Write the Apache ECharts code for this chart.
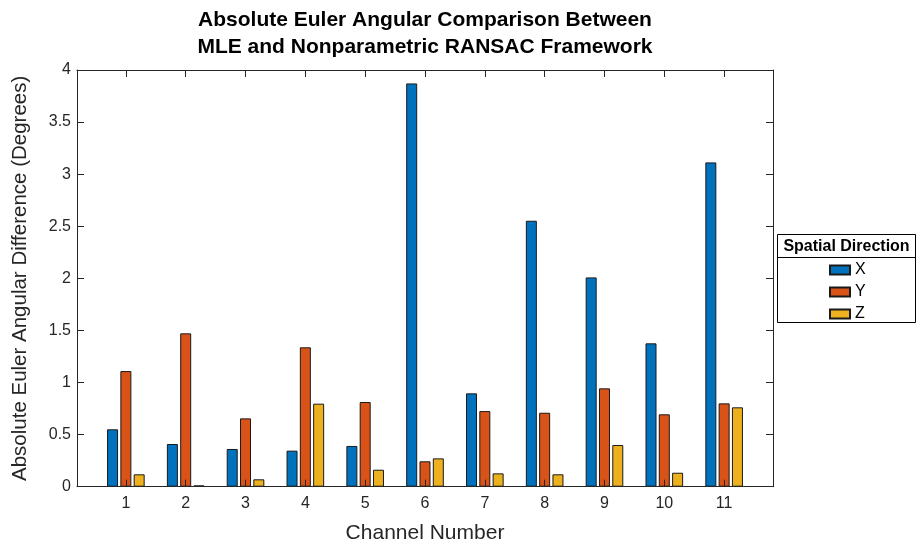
<!DOCTYPE html>
<html>
<head>
<meta charset="utf-8">
<script src="https://cdn.jsdelivr.net/npm/echarts@6/dist/echarts.min.js"></script>
<style>
  html, body { margin: 0; padding: 0; background: #fff; }
  #chart { width: 916px; height: 543px; }
</style>
</head>
<body>
<div id="chart"></div>
<script>
// Channel numbers on the x axis
const channels = [1, 2, 3, 4, 5, 6, 7, 8, 9, 10, 11];
// Absolute Euler angle differences (degrees) per spatial direction
const valuesX = [0.551, 0.410, 0.362, 0.346, 0.391, 3.871, 0.896, 2.553, 2.009, 1.376, 3.113];
const valuesY = [1.110, 1.472, 0.656, 1.338, 0.813, 0.244, 0.726, 0.710, 0.944, 0.695, 0.800];
const valuesZ = [0.119, 0.013, 0.071, 0.797, 0.163, 0.272, 0.128, 0.119, 0.400, 0.134, 0.762];
const seriesNames = ['X', 'Y', 'Z'];
const seriesColors = ['#0072BD', '#D95319', '#EDB120'];

const FONT = '"Liberation Sans", Arial, Helvetica, sans-serif';
const INK = '#262626';

const chart = echarts.init(document.getElementById('chart'), null, { renderer: 'canvas' });

const pairs = vals => channels.map((c, i) => [c, vals[i]]);
const allValues = [valuesX, valuesY, valuesZ];

// Horizontal limits leave extra room beside the first and last channel
const xRange = { min: 0.1833, max: 11.8167 };

const option = {
  backgroundColor: '#ffffff',
  animation: false,
  title: {
    text: 'Absolute Euler Angular Comparison Between\nMLE and Nonparametric RANSAC Framework',
    left: 425,
    top: 7,
    padding: 0,
    textAlign: 'center',
    textStyle: { fontFamily: FONT, fontSize: 21, fontWeight: 'bold', color: '#000', lineHeight: 26.5 }
  },
  grid: { left: 77, right: 143, top: 70, bottom: 56.3, containLabel: false, outerBoundsMode: 'none' },
  legend: {
    orient: 'vertical',
    left: 829,
    top: 262,
    padding: 0,
    icon: 'rect',
    itemWidth: 20,
    itemHeight: 9,
    itemGap: 6,
    data: seriesNames,
    textStyle: { fontFamily: FONT, fontSize: 16, color: '#000', lineHeight: 15 }
  },
  xAxis: [
    {
      type: 'value',
      position: 'bottom',
      min: xRange.min,
      max: xRange.max,
      z: 10,
      name: 'Channel Number',
      nameLocation: 'middle',
      nameGap: 36,
      nameTextStyle: { fontFamily: FONT, fontSize: 21, color: INK },
      axisLine: { show: true, onZero: false, lineStyle: { color: INK, width: 1 } },
      axisTick: { show: true, inside: true, length: 7, customValues: channels, lineStyle: { color: INK } },
      axisLabel: { show: true, margin: 9, customValues: channels, fontFamily: FONT, fontSize: 16, color: INK },
      splitLine: { show: false }
    },
    {
      type: 'value',
      position: 'top',
      min: xRange.min,
      max: xRange.max,
      z: 10,
      axisLine: { show: true, onZero: false, lineStyle: { color: INK, width: 1 } },
      axisTick: { show: true, inside: true, length: 7, customValues: channels, lineStyle: { color: INK } },
      axisLabel: { show: false },
      splitLine: { show: false }
    }
  ],
  yAxis: [
    {
      type: 'value',
      position: 'left',
      min: 0,
      max: 4,
      interval: 0.5,
      z: 10,
      name: 'Absolute Euler Angular Difference (Degrees)',
      nameLocation: 'middle',
      nameGap: 46,
      nameTextStyle: { fontFamily: FONT, fontSize: 20.5, color: INK },
      axisLine: { show: true, onZero: false, lineStyle: { color: INK, width: 1 } },
      axisTick: { show: true, inside: true, length: 7, lineStyle: { color: INK } },
      axisLabel: { show: true, margin: 6, fontFamily: FONT, fontSize: 16, color: INK },
      splitLine: { show: false }
    },
    {
      type: 'value',
      position: 'right',
      min: 0,
      max: 4,
      interval: 0.5,
      z: 10,
      axisLine: { show: true, onZero: false, lineStyle: { color: INK, width: 1 } },
      axisTick: { show: true, inside: true, length: 7, lineStyle: { color: INK } },
      axisLabel: { show: false },
      splitLine: { show: false }
    }
  ],
  series: seriesNames.map((name, k) => ({
    name: name,
    type: 'bar',
    xAxisIndex: 0,
    yAxisIndex: 0,
    barWidth: 11,
    barGap: '21%',
    data: pairs(allValues[k]),
    itemStyle: { color: seriesColors[k], borderColor: '#1a1a1a', borderWidth: 1 }
  })),
  graphic: [
    {
      type: 'rect',
      shape: { x: 777.5, y: 234.5, width: 138, height: 88 },
      style: { fill: 'none', stroke: '#000', lineWidth: 1 },
      z: 1
    },
    {
      type: 'line',
      shape: { x1: 777.5, y1: 257.5, x2: 915.5, y2: 257.5 },
      style: { stroke: '#000', lineWidth: 1 },
      z: 1
    },
    {
      type: 'text',
      x: 846.5,
      y: 246.5,
      style: {
        text: 'Spatial Direction',
        font: 'bold 16px "Liberation Sans", Arial, sans-serif',
        fill: '#000',
        textAlign: 'center',
        textVerticalAlign: 'middle'
      },
      z: 1
    }
  ]
};

chart.setOption(option);
</script>
</body>
</html>
